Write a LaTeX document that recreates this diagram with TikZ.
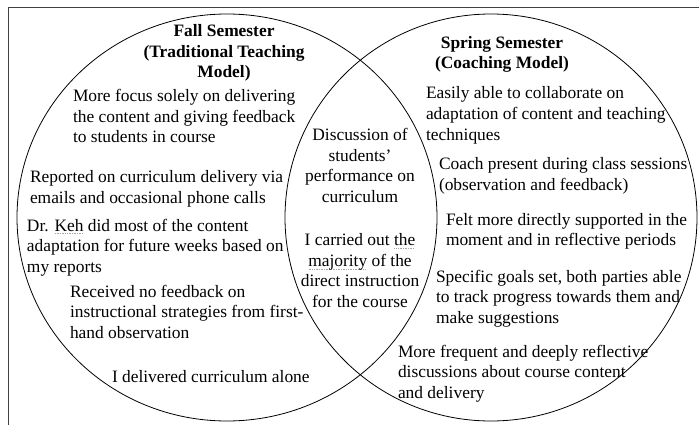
\documentclass[tikz,border=0pt]{standalone}
\usepackage{fontspec}
\setmainfont{Liberation Serif}
\usetikzlibrary{shapes.geometric}

% left- and centre-aligned line blocks whose base is the first line
\newcommand{\blockl}[1]{\begin{tabular}[t]{@{}l@{}}#1\end{tabular}}
\newcommand{\blockc}[1]{\begin{tabular}[t]{@{}c@{}}#1\end{tabular}}
% grey dotted proofing mark under a word
\newcommand{\dotul}[1]{\setbox0\hbox{#1}\rlap{\color{gray!70}\raisebox{-3.2pt}{\hbox to\wd0{\leaders\hbox to 1.7pt{\hss\rule{0.85pt}{0.85pt}\hss}\hfil}}}\box0\relax}

\tikzset{
  set/.style={ellipse, draw=black, line width=0.8pt, inner sep=0pt, minimum width=#1},
  txt/.style={inner sep=0pt, outer sep=0pt, font=\fontsize{17.4}{20.7}\selectfont},
  ttl/.style={txt, font=\fontsize{17.4}{20.5}\selectfont\bfseries},
  frame/.style={draw=black!75, line width=0.9pt}
}

\begin{document}
\begin{tikzpicture}[x=1pt, y=-1pt]
  \useasboundingbox (0,0) rectangle (699,425);
  \fill[white] (0,0) rectangle (699,425);

  % border of the figure
  \coordinate (ftl) at (8,7);
  \coordinate (ftr) at (699,7);
  \coordinate (fbl) at (8,425);
  \draw[frame] (ftr) -- (ftl) -- (fbl);

  % the two sets
  \node[set=420pt, minimum height=407pt] (fall) at (227,217.5) {};
  \node[set=412pt, minimum height=407pt] (spring) at (491,217.5) {};

  % Fall semester
  \node[ttl, anchor=base] (falltitle) at (224,36.7)
    {\blockc{Fall Semester\\(Traditional Teaching\\Model)}};
  \node[txt, anchor=base west] (f1) at (73,101.5)
    {\blockl{More focus solely on delivering\\the content and giving feedback\\to students in course}};
  \node[txt, anchor=base west] (f2) at (30,182.5)
    {\blockl{Reported on curriculum delivery via\\emails and occasional phone calls}};
  \node[txt, anchor=base west] (f3) at (27,231)
    {\blockl{Dr. \dotul{Keh} did most of the content\\adaptation for future weeks based on\\my reports}};
  \node[txt, anchor=base west] (f4) at (70,297)
    {\blockl{Received no feedback on\\instructional strategies from first-\\hand observation}};
  \node[txt, anchor=base west] (f5) at (112,382.5)
    {I delivered curriculum alone};

  % shared region
  \node[txt, anchor=base] (both1) at (360,140.5)
    {\blockc{Discussion of\\students'\\performance on\\curriculum}};
  \node[txt, anchor=base] (both2) at (360,245.5)
    {\blockc{I carried out \dotul{the}\\\dotul{majority} of the\\direct instruction\\for the course}};

  % Spring semester
  \node[ttl, anchor=base] (springtitle) at (502,48.5)
    {\blockc{Spring Semester\\(Coaching Model)}};
  \node[txt, anchor=base west] (s1) at (426,99)
    {\blockl{Easily able to collaborate on\\adaptation of content and teaching\\techniques}};
  \node[txt, anchor=base west] (s2) at (439,170)
    {\blockl{Coach present during class sessions\\(observation and feedback)}};
  \node[txt, anchor=base west] (s3) at (446,225)
    {\blockl{Felt more directly supported in the\\moment and in reflective periods}};
  \node[txt, anchor=base west] (s4) at (436,282)
    {\blockl{Specific goals set, both parties able\\to track progress towards them and\\make suggestions}};
  \node[txt, anchor=base west] (s5) at (398,357)
    {\blockl{More frequent and deeply reflective\\discussions about course content\\and delivery}};
\end{tikzpicture}
\end{document}
